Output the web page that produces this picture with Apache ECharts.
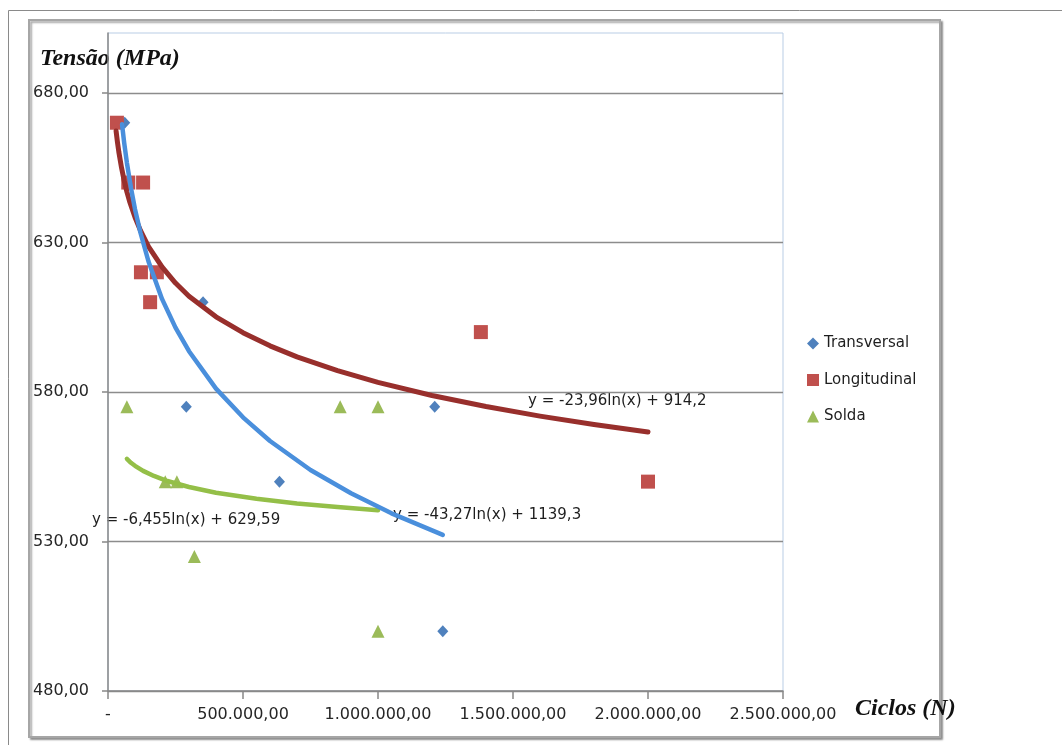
<!DOCTYPE html>
<html>
<head>
<meta charset="utf-8">
<title>Tensão x Ciclos</title>
<script src="https://cdn.jsdelivr.net/npm/echarts@6/dist/echarts.min.js"></script>
<style>
  html, body { margin: 0; padding: 0; background: #fff; }
  #chart { width: 1062px; height: 745px; }
</style>
</head>
<body>
<div id="chart"></div>
<script>
// pontos medidos [ciclos, tensão]
const transversal = [[62000, 670], [352000, 610], [290000, 575], [1210000, 575], [635000, 550], [1240000, 500]]
const longitudinal = [[33000, 670], [75000, 650], [130000, 650], [122000, 620], [181000, 620], [156000, 610], [1381000, 600], [2000000, 550]]
const solda = [[70000, 575], [212000, 550], [255000, 550], [320000, 525], [860000, 575], [1000000, 575], [1000000, 500]]

// linhas de tendência
const trendTransversal = [[52000, 669.5], [60000, 663.2], [70000, 656.6], [85000, 648.2], [100000, 641.1], [120000, 633.3], [150000, 623.6], [200000, 611.1], [250000, 601.5], [300000, 593.6], [400000, 581.1], [500000, 571.5], [600000, 563.6], [750000, 553.9], [900000, 546.1], [1050000, 539.4], [1240000, 532.2]]
const trendLongitudinal = [[30000, 667.2], [35000, 663.5], [40000, 660.3], [50000, 655], [60000, 650.6], [70000, 646.9], [80000, 643.7], [100000, 638.4], [120000, 634], [150000, 628.6], [200000, 621.8], [250000, 616.4], [300000, 612], [400000, 605.1], [500000, 599.8], [600000, 595.4], [700000, 591.7], [850000, 587.1], [1000000, 583.2], [1200000, 578.8], [1400000, 575.1], [1600000, 571.9], [1800000, 569.1], [2000000, 566.6]]
const trendSolda = [[70000, 557.6], [85000, 556.3], [100000, 555.3], [130000, 553.6], [170000, 551.9], [220000, 550.2], [300000, 548.2], [400000, 546.3], [550000, 544.3], [700000, 542.7], [850000, 541.5], [1000000, 540.4]]

const equations = ['y = -43,27ln(x) + 1139,3', 'y = -23,96ln(x) + 914,2', 'y = -6,455ln(x) + 629,59']
const seriesNames = ['Transversal', 'Longitudinal', 'Solda']

const font = 'DejaVu Sans'
const titleFont = '"Liberation Serif", serif'

// 1234567 -> 1.234.567,00
const fmt = (v) => v.toFixed(2).replace('.', ',').replace(/\B(?=(\d{3})+(?!\d))/g, '.')

const chart = echarts.init(document.getElementById('chart'))

const trendLine = (name, data, color, width) => ({
  name,
  type: 'line',
  smooth: false,
  showSymbol: false,
  lineStyle: { color, width, cap: 'round', join: 'round' },
  data
})

const option = {
  animation: false,
  backgroundColor: '#fff',
  grid: {
    left: 108,
    right: 279,
    top: 33,
    bottom: 54,
    show: true,
    borderColor: '#b9cde5',
    borderWidth: 1,
    outerBoundsMode: 'none'
  },
  legend: {
    orient: 'vertical',
    left: 802,
    top: 331,
    itemGap: 21.5,
    itemWidth: 12,
    itemHeight: 12,
    textStyle: { fontFamily: font, fontSize: 15, color: '#1e1e1e' },
    data: [
      { name: seriesNames[0], icon: 'diamond' },
      { name: seriesNames[1], icon: 'rect' },
      { name: seriesNames[2], icon: 'triangle' }
    ]
  },
  xAxis: {
    type: 'value',
    min: 0,
    max: 2500000,
    interval: 500000,
    axisLine: { show: true, lineStyle: { color: '#888', width: 1.5 } },
    axisTick: { show: true, inside: false, length: 8, lineStyle: { color: '#888', width: 1.5 } },
    axisLabel: {
      margin: 16,
      fontFamily: font,
      fontSize: 16,
      color: '#262626',
      formatter: (v) => (v === 0 ? '-' : fmt(v))
    },
    splitLine: { show: false }
  },
  yAxis: {
    type: 'value',
    min: 480,
    max: 700,
    interval: 50,
    axisLine: { show: true, lineStyle: { color: '#888', width: 1.5 } },
    axisTick: { show: true, inside: false, length: 6, lineStyle: { color: '#888', width: 1.5 } },
    axisLabel: {
      margin: 19,
      fontFamily: font,
      fontSize: 16,
      color: '#262626',
      showMaxLabel: false,
      formatter: (v) => fmt(v)
    },
    splitLine: { show: true, showMaxLine: false, lineStyle: { color: '#8c8c8c', width: 1.3 } }
  },
  series: [
    {
      name: seriesNames[0],
      type: 'scatter',
      symbol: 'diamond',
      symbolSize: [11, 12],
      itemStyle: { color: '#4f81bd', opacity: 1 },
      data: transversal
    },
    {
      name: seriesNames[1],
      type: 'scatter',
      symbol: 'rect',
      symbolSize: 14,
      itemStyle: { color: '#c0504d', opacity: 1 },
      data: longitudinal
    },
    {
      name: seriesNames[2],
      type: 'scatter',
      symbol: 'triangle',
      symbolSize: 13,
      itemStyle: { color: '#9bbb59', opacity: 1 },
      data: solda
    },
    trendLine('tendLongitudinal', trendLongitudinal, '#982f2c', 5),
    trendLine('tendSolda', trendSolda, '#94bf48', 4.5),
    trendLine('tendTransversal', trendTransversal, '#4a8fdc', 4.5)
  ],
  graphic: [
    // moldura externa
    {
      type: 'rect',
      silent: true,
      z: -10,
      shape: { x: 8.5, y: 10.5, width: 1200, height: 900 },
      style: { fill: null, stroke: '#8a8a8a', lineWidth: 1 }
    },
    // área do gráfico
    {
      type: 'rect',
      silent: true,
      z: -9,
      shape: { x: 29, y: 20, width: 911, height: 717 },
      style: {
        fill: '#fff',
        stroke: '#a6a6a6',
        lineWidth: 2,
        shadowColor: 'rgba(0,0,0,0.35)',
        shadowBlur: 2,
        shadowOffsetX: 2,
        shadowOffsetY: 2
      }
    },
    {
      type: 'text',
      left: 40,
      top: 47,
      style: { text: 'Tensão (MPa)', font: 'italic bold 24px ' + titleFont, fill: '#111' }
    },
    {
      type: 'text',
      left: 855,
      top: 697,
      style: { text: 'Ciclos (N)', font: 'italic bold 24px ' + titleFont, fill: '#111' }
    },
    // equações das tendências
    {
      type: 'text',
      left: 393,
      top: 508,
      style: { text: equations[0], font: '15px ' + font, fill: '#1e1e1e' }
    },
    {
      type: 'text',
      left: 528,
      top: 394,
      style: { text: equations[1], font: '15px ' + font, fill: '#1e1e1e' }
    },
    {
      type: 'text',
      left: 92,
      top: 513,
      style: { text: equations[2], font: '15px ' + font, fill: '#1e1e1e' }
    }
  ]
}

chart.setOption(option)
</script>
</body>
</html>
